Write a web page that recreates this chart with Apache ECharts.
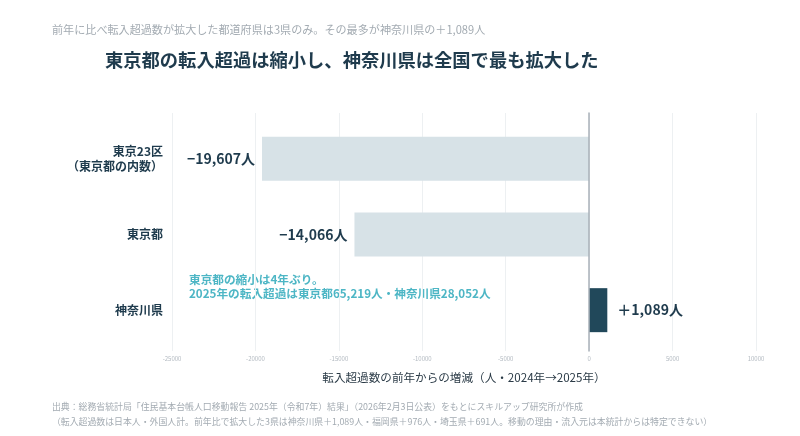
<!DOCTYPE html>
<html><head><meta charset="utf-8">
<script src="https://cdn.jsdelivr.net/npm/echarts@6/dist/echarts.min.js"></script>
<style>html,body{margin:0;padding:0;background:#fff}#c{width:800px;height:436px}</style>
</head><body><div id="c"></div>
<script>
const categories = ['東京23区\n（東京都の内数）', '東京都', '神奈川県'];
const values = [-19607, -14066, 1089];
const barColors = ['#d7e2e7', '#d7e2e7', '#21485a'];
const xMin = -25000, xMax = 10000, xStep = 5000;

const FONT = '"Noto Sans CJK JP", "Noto Sans", sans-serif';
const dark = '#1f3b4d';

function fmt(v) {
  const s = Math.abs(v).toLocaleString('en-US');
  return (v < 0 ? '−' : '＋') + s + '人';
}

const data = values.map((v, i) => ({
  value: v,
  itemStyle: { color: barColors[i] },
  label: { position: v < 0 ? 'left' : 'right', distance: v < 0 ? 7 : 10 }
}));

const chart = echarts.init(document.getElementById('c'));
chart.setOption({
  animation: false,
  textStyle: { fontFamily: FONT },
  grid: [
    { left: 172, right: 44, top: 121, bottom: 88 },
    { left: 172, right: 44, top: 113, bottom: 85 }
  ],
  xAxis: [
    { type: 'value', gridIndex: 0, min: xMin, max: xMax, interval: xStep, show: false },
    {
      type: 'value', gridIndex: 1, min: xMin, max: xMax, interval: xStep,
      axisLine: { show: false }, axisTick: { show: false },
      splitLine: { show: true, lineStyle: { color: '#edf0f2', width: 1 } },
      axisLabel: { fontSize: 6, color: '#b3bac1', margin: 5, fontFamily: FONT, formatter: v => String(v) },
      name: '転入超過数の前年からの増減（人・2024年→2025年）',
      nameLocation: 'middle', nameGap: 21,
      nameTextStyle: { fontSize: 11.6, color: '#2a3a46', fontFamily: FONT }
    }
  ],
  yAxis: [
    {
      type: 'category', gridIndex: 0, inverse: true, data: categories,
      axisLine: { show: false }, axisTick: { show: false }, splitLine: { show: false },
      axisLabel: { fontSize: 12, fontWeight: 'bold', color: dark, margin: 9, lineHeight: 15, align: 'right', fontFamily: FONT }
    },
    {
      type: 'category', gridIndex: 1, data: [''], z: 5,
      axisLine: { show: true, onZero: true, lineStyle: { color: '#a8b1b8', width: 1.5 } },
      axisTick: { show: false }, axisLabel: { show: false }, splitLine: { show: false }
    }
  ],
  series: [{
    type: 'bar', xAxisIndex: 0, yAxisIndex: 0, barWidth: 44,
    data: data,
    label: {
      show: true, fontSize: 14, fontWeight: 'bold', color: dark, fontFamily: FONT,
      formatter: p => fmt(p.value)
    }
  }],
  graphic: [
    { type: 'text', left: 52, top: 24, style: { text: '前年に比べ転入超過数が拡大した都道府県は3県のみ。その最多が神奈川県の＋1,089人', fontSize: 11.1, fill: '#a3abb2', fontFamily: FONT } },
    { type: 'text', left: 105, top: 51, style: { text: '東京都の転入超過は縮小し、神奈川県は全国で最も拡大した', fontSize: 18.3, fontWeight: 'bold', fill: '#1f3b4d', fontFamily: FONT } },
    { type: 'text', left: 189, top: 273, style: { text: '東京都の縮小は4年ぶり。\n2025年の転入超過は東京都65,219人・神奈川県28,052人', fontSize: 11.65, fontWeight: 'bold', lineHeight: 14, fill: '#4db6c5', fontFamily: FONT } },
    { type: 'text', left: 52, top: 402, style: { text: '出典：総務省統計局「住民基本台帳人口移動報告 2025年（令和7年）結果」（2026年2月3日公表）をもとにスキルアップ研究所が作成', fontSize: 8.9, fill: '#a3abb2', fontFamily: FONT } },
    { type: 'text', left: 52, top: 417, style: { text: '（転入超過数は日本人・外国人計。前年比で拡大した3県は神奈川県＋1,089人・福岡県＋976人・埼玉県＋691人。移動の理由・流入元は本統計からは特定できない）', fontSize: 8.9, fill: '#a3abb2', fontFamily: FONT } }
  ]
});
</script>
</body></html>
